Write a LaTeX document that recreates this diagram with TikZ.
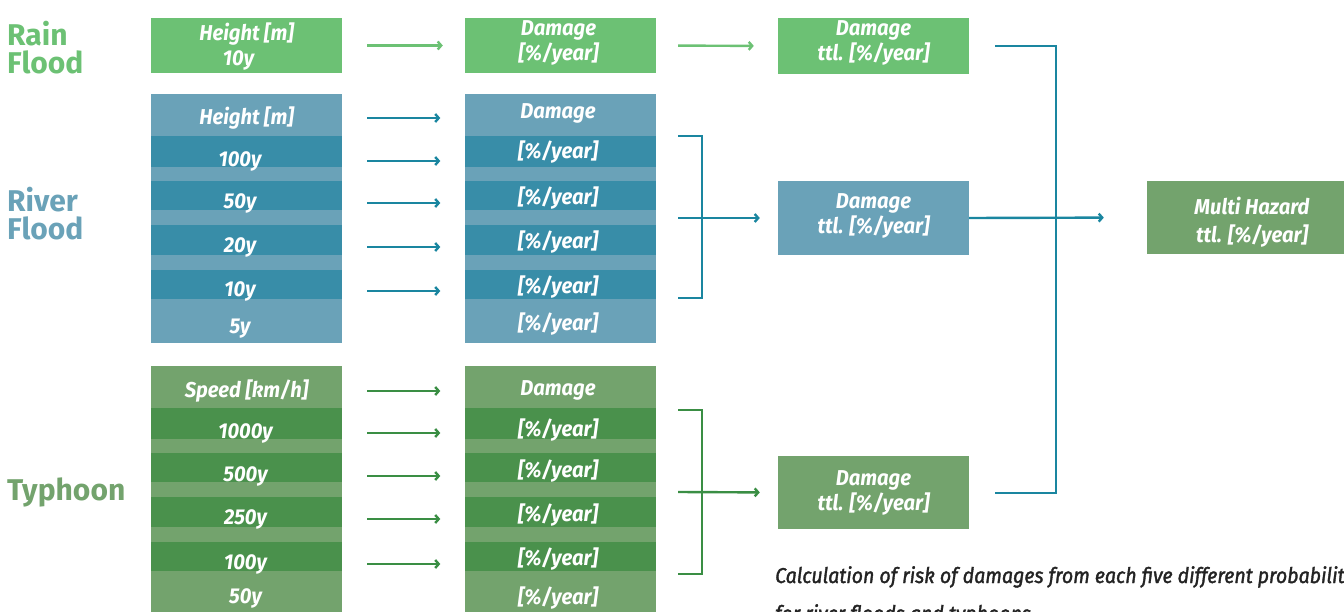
\documentclass[tikz,border=0pt]{standalone}
\usepackage{fontspec}
\setmainfont{Fira Sans}
\newfontfamily\cellfont[FakeStretch=0.94]{Fira Sans}
\newfontfamily\notefont[FakeStretch=0.91,FakeBold=1.6]{Fira Sans}
\usetikzlibrary{arrows.meta}

\definecolor{rainG}{HTML}{6CC174}
\definecolor{rivL}{HTML}{6AA2B8}
\definecolor{rivD}{HTML}{388DA8}
\definecolor{tyL}{HTML}{73A36D}
\definecolor{tyD}{HTML}{4A914C}
\definecolor{rivLine}{HTML}{1A86A0}
\definecolor{tyLine}{HTML}{3A8E44}
\definecolor{noteC}{HTML}{232323}

\tikzset{
  cell/.style={font=\cellfont\bfseries\itshape\fontsize{21.5}{25}\selectfont,
    text=white, inner sep=0pt, align=center},
  colL/.style={cell, minimum width=191pt},
  colR/.style={cell, minimum width=191pt},
  boxnode/.style={inner sep=0pt, minimum width=191pt, minimum height=#1},
  hazard/.style={font=\bfseries\fontsize{30}{28}\selectfont, inner sep=0pt,
    align=left, anchor=west},
  flow/.style={line width=2.4pt, -{Straight Barb[length=3.5pt,width=8pt]}},
  bracket/.style={line width=2pt},
}

\begin{document}
\begin{tikzpicture}[x=1pt,y=-1pt]
\useasboundingbox (0,0) rectangle (1344,612);
\clip (0,0) rectangle (1344,612);

% ---------- hazard names ----------
\node[hazard, text=rainG] (lRain) at (7,48) {Rain\\Flood};
\node[hazard, text=rivL] (lRiver) at (7,214) {River\\Flood};
\node[hazard, text=tyL] (lTy) at (7,492) {Typhoon};

% ---------- rain flood ----------
\node[boxnode=55pt, fill=rainG] (rA) at (246.5,45.5) {};
\node[boxnode=55pt, fill=rainG] (rB) at (560.5,45.5) {};
\node[boxnode=56pt, fill=rainG] (rC) at (873.5,46) {};
\node[colL] (rAt) at (246.5,47) {Height [m]\\10y\hspace*{16pt}};
\node[colR] (rBt) at (558.5,42.5) {Damage\\{}[\%/year]};
\node[cell] (rCt) at (873.5,43) {Damage\\ttl. [\%/year]};
\draw[flow, rainG, shorten <=25pt, shorten >=22pt] (rA.east) -- (rB.west);
\draw[flow, rainG, shorten <=22pt, shorten >=24pt] (rB.east) -- (rC.west);

% ---------- river flood ----------
\fill[rivL] (151,94) rectangle (342,343);
\fill[rivL] (465,94) rectangle (656,343);
\foreach \t/\b in {136/167,181/210,225/255,270/299}{
  \fill[rivD] (151,\t) rectangle (342,\b);
  \fill[rivD] (465,\t) rectangle (656,\b);
}
\node[colL] (fL0) at (246.5,118) {Height [m]};
\node[colL] (fL1) at (246.5,161) {100y\hspace*{13pt}};
\node[colL] (fL2) at (246.5,203) {50y\hspace*{13pt}};
\node[colL] (fL3) at (246.5,247) {20y\hspace*{13pt}};
\node[colL] (fL4) at (246.5,291) {10y\hspace*{13pt}};
\node[colL] (fL5) at (246.5,329) {5y\hspace*{13pt}};
\node[colR] (fR0) at (558,113) {Damage};
\node[colR] (fR1) at (558,152) {[\%/year]};
\node[colR] (fR2) at (558,198) {[\%/year]};
\node[colR] (fR3) at (558,242) {[\%/year]};
\node[colR] (fR4) at (558,287) {[\%/year]};
\node[colR] (fR5) at (558,324) {[\%/year]};
\foreach \i in {0,...,4}{
  \draw[flow, rivLine, shorten <=25pt, shorten >=22pt]
    (fL\i.east) -- (fL\i.east -| fR\i.west);
}
\draw[bracket, rivLine] (678,136) -- (702,136) -- (702,298) -- (678,298);
\node[boxnode=74pt, fill=rivL] (fT) at (873.5,218) {};
\node[cell] (fTt) at (873.5,215.5) {Damage\\ttl. [\%/year]};
\coordinate (fJ) at (678,218);
\draw[flow, rivLine, shorten >=18pt] (fJ) -- (fT.west);

% ---------- typhoon ----------
\fill[tyL] (151,366) rectangle (342,612);
\fill[tyL] (465,366) rectangle (656,612);
\foreach \t/\b in {408/439,453/482,497/527,542/571}{
  \fill[tyD] (151,\t) rectangle (342,\b);
  \fill[tyD] (465,\t) rectangle (656,\b);
}
\node[colL] (tL0) at (246.5,391) {Speed [km/h]};
\node[colL] (tL1) at (246.5,433) {1000y\hspace*{2pt}};
\node[colL] (tL2) at (246.5,476) {500y\hspace*{2pt}};
\node[colL] (tL3) at (246.5,519) {250y\hspace*{2pt}};
\node[colL] (tL4) at (246.5,564) {100y\hspace*{2pt}};
\node[colL] (tL5) at (246.5,598) {50y\hspace*{2pt}};
\node[colR] (tR0) at (558,390) {Damage};
\node[colR] (tR1) at (558,430) {[\%/year]};
\node[colR] (tR2) at (558,471) {[\%/year]};
\node[colR] (tR3) at (558,515) {[\%/year]};
\node[colR] (tR4) at (558,559) {[\%/year]};
\node[colR] (tR5) at (558,598) {[\%/year]};
\foreach \i in {0,...,4}{
  \draw[flow, tyLine, shorten <=25pt, shorten >=22pt]
    (tL\i.east) -- (tL\i.east -| tR\i.west);
}
\draw[bracket, tyLine] (678,410) -- (702,410) -- (702,574) -- (678,574);
\node[boxnode=73pt, fill=tyL] (tT) at (873.5,492.5) {};
\node[cell] (tTt) at (873.5,492.5) {Damage\\ttl. [\%/year]};
\coordinate (tJ) at (678,492);
\draw[flow, tyLine, shorten >=18pt] (tJ) -- (tT.west);

% ---------- combination ----------
\node[inner sep=0pt, minimum width=197pt, minimum height=73pt, fill=tyL]
  (mh) at (1245.5,217.5) {};
\node[cell, font=\cellfont\bfseries\itshape\fontsize{21.5}{28}\selectfont]
  (mht) at (1252,222) {Multi Hazard\\ttl. [\%/year]};
\coordinate (cJ) at (1056,218);
\draw[bracket, rivLine] ([xshift=26pt]rC.east) -| (cJ) |- ([xshift=26pt]tT.east);
\draw[flow, rivLine, shorten >=43pt] (fT.east) -- (mh.west);

% ---------- note ----------
\node[anchor=base west, inner sep=0pt, text=noteC,
  font=\notefont\itshape\fontsize{21.5}{38}\selectfont] (note) at (775,583)
  {Calculation of risk of damages from each five different probability};
\node[anchor=base west, inner sep=0pt, text=noteC,
  font=\notefont\itshape\fontsize{21.5}{38}\selectfont] (note2) at (775,621)
  {for river floods and typhoons};
\end{tikzpicture}
\end{document}
